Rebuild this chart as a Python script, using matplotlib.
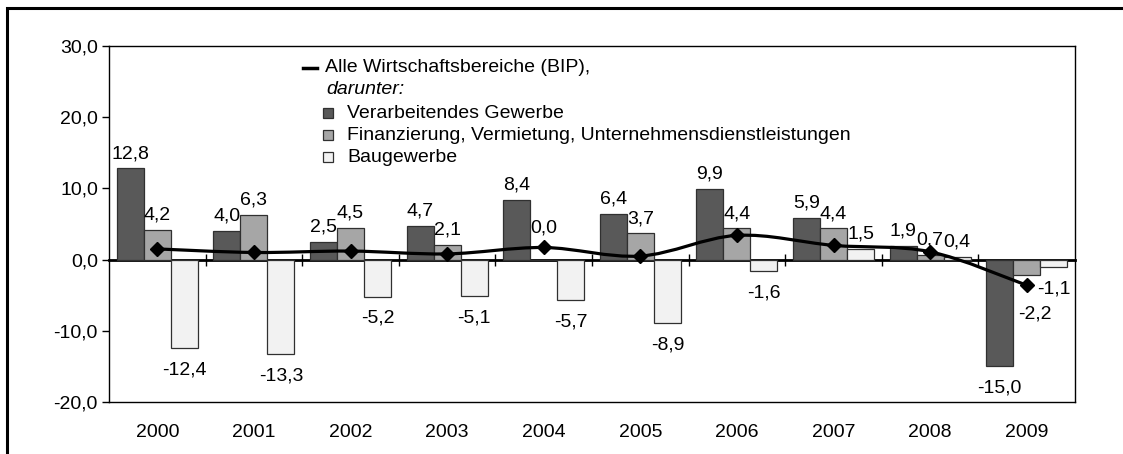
import matplotlib
matplotlib.use("Agg")
import matplotlib.pyplot as plt
import numpy as np
from matplotlib.path import Path
from matplotlib.patches import PathPatch, Rectangle
from matplotlib.lines import Line2D

plt.rcParams['font.family'] = ['Liberation Sans', 'DejaVu Sans']

years = ['2000', '2001', '2002', '2003', '2004', '2005', '2006', '2007', '2008', '2009']
verarbeitend = [12.8, 4.0, 2.5, 4.7, 8.4, 6.4, 9.9, 5.9, 1.9, -15.0]
finanzierung = [4.2, 6.3, 4.5, 2.1, 0.0, 3.7, 4.4, 4.4, 0.7, -2.2]
baugewerbe = [-12.4, -13.3, -5.2, -5.1, -5.7, -8.9, -1.6, 1.5, 0.4, -1.1]
bip = [1.5, 1.0, 1.2, 0.8, 1.7, 0.5, 3.4, 2.0, 1.1, -3.6]

labels = ['Verarbeitendes Gewerbe',
          'Finanzierung, Vermietung, Unternehmensdienstleistungen',
          'Baugewerbe']
colors = ['#595959', '#a6a6a6', '#f2f2f2']

W, H = 1123, 454
fig = plt.figure(figsize=(W / 100, H / 100), dpi=100)
ax = fig.add_axes([109 / W, 1 - 402 / H, (1075 - 109) / W, (402 - 46) / H])

def fx(px):
    return px / W

def fy(py):
    return 1 - py / H

# outer frame
fig.patches.append(Rectangle((fx(7), fy(470)), 1.2, fy(8) - fy(470), transform=fig.transFigure,
                             fill=False, edgecolor='black', linewidth=2.2))

x = np.arange(len(years))
bw = 0.28
series = [verarbeitend, finanzierung, baugewerbe]
fs = 14

# label nudges (points) where Excel moved labels to avoid overlap
nudge = {(1, 9): (6, -12), (1, 4): (0, 12)}

for k, vals in enumerate(series):
    xs = x + (k - 1) * bw
    ax.bar(xs, vals, width=bw, color=colors[k], edgecolor='#303030', linewidth=0.9, zorder=2)
    for i, v in enumerate(vals):
        dx, dy = nudge.get((k, i), (0, 0))
        txt = f'{v:.1f}'.replace('.', ',')
        if v >= 0:
            ax.annotate(txt, (xs[i], v), xytext=(dx, 4.5 + dy), textcoords='offset points',
                        ha='center', va='bottom', fontsize=fs, zorder=5)
        else:
            ax.annotate(txt, (xs[i], v), xytext=(dx, -9.5 + dy), textcoords='offset points',
                        ha='center', va='top', fontsize=fs, zorder=5)

# smoothed BIP line (Bezier curve through the points, like Excel)
pts = np.column_stack([x, bip]).astype(float)
ext = np.vstack([pts[0], pts, pts[-1]])
verts = [tuple(pts[0])]
codes = [Path.MOVETO]
for i in range(len(pts) - 1):
    p0, p1, p2, p3 = ext[i], ext[i + 1], ext[i + 2], ext[i + 3]
    c1 = p1 + (p2 - p0) / 6
    c2 = p2 - (p3 - p1) / 6
    verts += [tuple(c1), tuple(c2), tuple(p2)]
    codes += [Path.CURVE4] * 3
ax.add_patch(PathPatch(Path(verts, codes), fill=False, edgecolor='black', linewidth=2.3, zorder=4))
ax.plot(x, bip, linestyle='none', marker='D', markersize=7, color='black', zorder=4)

ax.set_xlim(-0.5, 9.5)
ax.set_ylim(-20, 30)
ax.set_yticks(np.arange(-20, 31, 10))
ax.set_yticklabels([f'{t:.1f}'.replace('.', ',') for t in np.arange(-20, 31, 10)], fontsize=fs)
ax.tick_params(axis='y', length=5, width=1, pad=3, direction='out')
ax.set_xticks(x)
ax.set_xticklabels(years, fontsize=fs)
ax.tick_params(axis='x', length=0, pad=16)
for s in ax.spines.values():
    s.set_linewidth(1.0)
    s.set_color('black')

# category axis crossing at zero
zero_ax = ax.secondary_xaxis(20 / 50)
zero_ax.set_xticks(np.arange(0.5, 9.5, 1))
zero_ax.set_xticklabels([])
zero_ax.tick_params(direction='inout', length=9, width=1)
zero_ax.spines['bottom'].set_linewidth(2.0)

# legend
fig.lines.append(Line2D([fx(303), fx(317)], [fy(68), fy(68)], transform=fig.transFigure,
                        color='black', linewidth=2.5))
fig.text(fx(325), fy(68), 'Alle Wirtschaftsbereiche (BIP),', fontsize=fs, va='center')
fig.text(fx(326), fy(89), 'darunter:', fontsize=fs, va='center', style='italic')
for k, lab in enumerate(labels):
    yc = 113 + 22 * k
    fig.patches.append(Rectangle((fx(323), fy(yc + 5)), fx(10), fy(yc - 5) - fy(yc + 5),
                                 transform=fig.transFigure, facecolor=colors[k],
                                 edgecolor='#303030', linewidth=0.9))
    fig.text(fx(347), fy(yc), lab, fontsize=fs, va='center')

fig.savefig('out.png', dpi=100)
